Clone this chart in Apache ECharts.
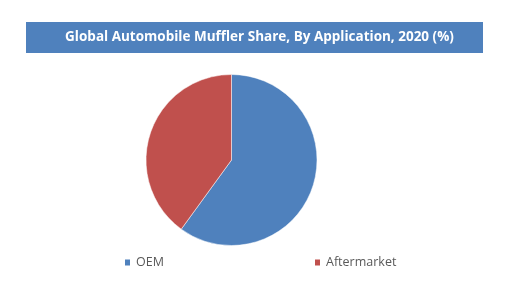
<!DOCTYPE html>
<html><head><meta charset="utf-8">
<script src="https://cdn.jsdelivr.net/npm/echarts@6/dist/echarts.min.js"></script>
<style>html,body{margin:0;padding:0;background:#fff}#c{width:514px;height:306px}</style>
</head><body><div id="c"></div>
<script>
const titleText = 'Global Automobile Muffler Share, By Application, 2020 (%)';
const categories = ['OEM', 'Aftermarket'];
const values = [60, 40];
const colors = ['#4F81BD', '#C0504D'];

const chart = echarts.init(document.getElementById('c'), null, {renderer: 'canvas'});
chart.setOption({
  animation: false,
  color: colors,
  graphic: [{
    type: 'rect', left: 26, top: 22, z: 0,
    shape: {width: 457, height: 31},
    style: {fill: '#4F81BD'}
  }],
  title: {
    text: titleText, left: 254.5, top: 25, textAlign: 'center',
    textStyle: {color: '#fff', fontFamily: 'Open Sans', fontWeight: 'bold', fontSize: 13.5}
  },
  legend: [{
    data: [categories[0]], left: 118, top: 251, itemWidth: 7, itemHeight: 8, itemGap: 5,
    icon: 'rect', textStyle: {color: '#595959', fontFamily: 'Open Sans', fontSize: 12.5}
  }, {
    data: [categories[1]], left: 308, top: 251, itemWidth: 7, itemHeight: 8, itemGap: 5,
    icon: 'rect', textStyle: {color: '#595959', fontFamily: 'Open Sans', fontSize: 12.5}
  }],
  series: [{
    type: 'pie', center: [231.5, 160], radius: 85.5, startAngle: 90, clockwise: true,
    label: {show: false}, labelLine: {show: false}, emphasis: {disabled: true},
    itemStyle: {borderColor: '#fff', borderWidth: 0.5},
    data: categories.map((c, i) => ({name: c, value: values[i]}))
  }]
});
</script></body></html>
